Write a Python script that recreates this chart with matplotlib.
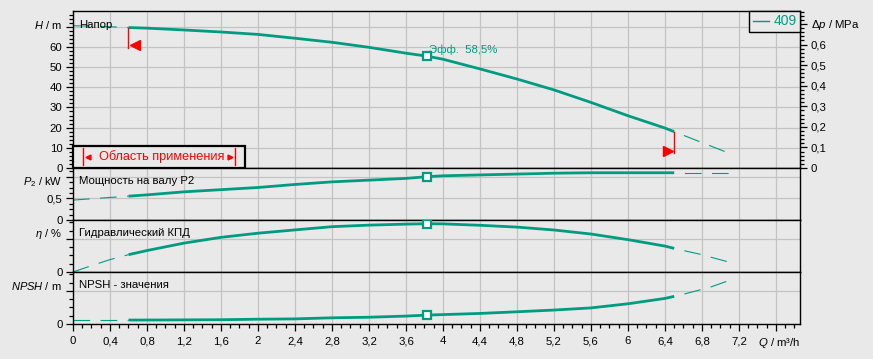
import matplotlib
matplotlib.use("Agg")
import matplotlib.pyplot as plt
import numpy as np
from matplotlib.ticker import MultipleLocator, FuncFormatter
from matplotlib.lines import Line2D
from matplotlib.patches import Rectangle

plt.rcParams["font.family"] = ["Liberation Sans", "DejaVu Sans"]
plt.rcParams["mathtext.fontset"] = "custom"
plt.rcParams["mathtext.rm"] = "Liberation Sans"
plt.rcParams["mathtext.it"] = "Liberation Sans:italic"
plt.rcParams["lines.scale_dashes"] = False

# --- data (Q in m3/h) ---
q = [0, 0.2, 0.4, 0.6, 0.8, 1.2, 1.6, 2.0, 2.4, 2.8, 3.2, 3.6, 3.83, 4.0,
     4.4, 4.8, 5.2, 5.6, 6.0, 6.4, 6.5, 6.6, 6.8, 6.9, 7.1]
head = [70.5, 70.3, 70.0, 69.6, 69.3, 68.4, 67.4, 66.2, 64.3, 62.3, 59.8,
        56.9, 55.4, 53.9, 49.1, 44.1, 38.7, 32.5, 25.9, 19.8, 18.0, 16.2,
        12.6, 10.8, 7.2]
p2 = [0.46, 0.49, 0.52, 0.55, 0.58, 0.65, 0.70, 0.75, 0.82, 0.88, 0.92,
      0.96, 1.0, 1.02, 1.04, 1.06, 1.08, 1.09, 1.09, 1.09, 1.09, 1.09,
      1.09, 1.09, 1.09]
eta = [0, 7.7, 15.0, 21.0, 26.0, 35.0, 42.0, 47.0, 51.0, 54.9, 56.8, 58.0,
       58.5, 58.3, 56.6, 54.4, 50.9, 46.0, 39.2, 31.4, 28.6, 26.0, 21.0,
       17.8, 11.8]
npsh = [0.48, 0.48, 0.48, 0.48, 0.48, 0.5, 0.52, 0.58, 0.62, 0.75, 0.82,
        0.96, 1.08, 1.14, 1.28, 1.48, 1.69, 1.95, 2.45, 3.1, 3.35, 3.6, 4.2,
        4.5, 5.3]

q_min, q_max = 0.6, 6.5      # application range
q_duty = 3.83
eff_label = "Эфф.  58,5%"
pump_name = "409"

TEAL = "#009c82"
RED = "#ff0000"
BG = "#e9e9e9"
GRID = "#c3c3c3"
FS = 8.2

fmt = FuncFormatter(lambda v, p: f"{v:g}".replace(".", ","))

fig = plt.figure(figsize=(8.73, 3.59), dpi=100, facecolor=BG)
W, Hpx = 873.0, 359.0
left, width = 73 / W, 727 / W


def panel(top_px, bot_px):
    ax = fig.add_axes([left, 1 - bot_px / Hpx, width, (bot_px - top_px) / Hpx])
    ax.set_facecolor(BG)
    ax.set_xlim(0, 7.86)
    ax.xaxis.set_major_locator(MultipleLocator(0.4))
    ax.xaxis.set_minor_locator(MultipleLocator(0.1))
    ax.grid(True, which="major", color=GRID, lw=0.9)
    ax.set_axisbelow(True)
    for s in ax.spines.values():
        s.set_color("black")
        s.set_linewidth(1.0)
    ax.tick_params(axis="both", which="major", length=5, width=0.9,
                   labelsize=FS, pad=2.5, direction="out")
    ax.tick_params(axis="both", which="minor", length=3, width=0.9,
                   direction="out")
    ax.tick_params(axis="x", which="both", bottom=False, labelbottom=False)
    ax.yaxis.set_major_formatter(fmt)
    return ax


def draw(ax, vals):
    qa = np.array(q)
    va = np.array(vals)
    lo = qa <= q_min
    mid = (qa >= q_min) & (qa <= q_max)
    hi = qa >= q_max
    ax.plot(qa[lo], va[lo], color=TEAL, lw=0.8, ls=(0, (12, 7.5)))
    ax.plot(qa[mid], va[mid], color=TEAL, lw=2.0, solid_capstyle="butt")
    ax.plot(qa[hi], va[hi], color=TEAL, lw=0.8, ls=(12, (12, 7.5)))
    d = qa == q_duty
    ax.plot(qa[d], va[d], "s", ms=5.5, mfc="white", mec=TEAL, mew=1.6,
            zorder=5)
    return qa[d][0], va[d][0]


def ylabel(ax, y, text):
    ax.text(-0.015, y, text, transform=ax.get_yaxis_transform(),
            ha="right", va="center", fontsize=8)


def title(ax, y, text):
    ax.text(0.0085, y, text, transform=ax.transAxes, ha="left",
            va="center", fontsize=FS)


# --- head ---
ax_h = panel(11, 168)
ax_h.set_ylim(0, 77.8)
ax_h.yaxis.set_major_locator(MultipleLocator(10))
ax_h.yaxis.set_minor_locator(MultipleLocator(2))
ax_h.yaxis.set_major_formatter(
    FuncFormatter(lambda v, p: "" if v > 65 else f"{v:g}"))
ylabel(ax_h, 70.9, r"$H$ / m")
title(ax_h, 0.91, "Напор")
qd, hd = draw(ax_h, head)
ax_h.annotate(eff_label, (qd, hd), xytext=(1.5, 5), textcoords="offset points",
              ha="left", va="center", fontsize=FS, color=TEAL)

# application range marks
h_lo = head[q.index(q_min)]
h_hi = head[q.index(q_max)]
ax_h.plot([q_min, q_min], [h_lo, h_lo - 10.3], color=RED, lw=1.0)
ax_h.plot([q_min + 0.065], [h_lo - 8.6], "<", color=RED, ms=6.5)
ax_h.plot([q_max, q_max], [h_hi, h_hi - 10.7], color=RED, lw=1.0)
ax_h.plot([q_max - 0.065], [h_hi - 9.4], ">", color=RED, ms=6.5)

# "Область применения" box
box_w, box_h = 172 / 727, 22 / 157
ax_h.add_patch(Rectangle((0, 0), box_w, box_h, transform=ax_h.transAxes,
                         facecolor=BG, edgecolor="black", lw=1.6, zorder=6,
                         clip_on=False))
ax_h.text(0.1215, box_h / 2, "Область применения", transform=ax_h.transAxes,
          ha="center", va="center", fontsize=9.2, color=RED, zorder=7)
for xb in (10 / 727, 162 / 727):
    ax_h.plot([xb, xb], [3 / 157, 20 / 157], color=RED, lw=1.0,
              transform=ax_h.transAxes, zorder=7)
ax_h.plot([15 / 727], [box_h / 2], "<", color=RED, ms=3.5,
          transform=ax_h.transAxes, zorder=7)
ax_h.plot([157 / 727], [box_h / 2], ">", color=RED, ms=3.5,
          transform=ax_h.transAxes, zorder=7)

leg = ax_h.legend(handles=[Line2D([], [], color=TEAL, lw=1.0)],
                  labels=[pump_name], loc="upper right", fontsize=10,
                  frameon=True, fancybox=False, framealpha=1, facecolor=BG,
                  edgecolor="black", borderaxespad=0, handlelength=1.2,
                  handletextpad=0.3, borderpad=0.25, labelcolor=TEAL)
leg.get_frame().set_linewidth(1.0)
leg.set_zorder(8)

sec = ax_h.secondary_yaxis("right", functions=(lambda h: h * 0.00981,
                                               lambda p: p / 0.00981))
sec.yaxis.set_major_locator(MultipleLocator(0.1))
sec.yaxis.set_minor_locator(MultipleLocator(0.02))
sec.yaxis.set_major_formatter(
    FuncFormatter(lambda v, p: "" if v > 0.65 else f"{v:g}".replace(".", ",")))
sec.tick_params(which="major", length=5, width=0.9, labelsize=FS, pad=2.5)
sec.tick_params(which="minor", length=3, width=0.9)
sec.spines["right"].set_color("black")
ax_h.text(1.015, 70.9, r"$\mathit{\Delta p}$ / MPa",
          transform=ax_h.get_yaxis_transform(), ha="left", va="center",
          fontsize=FS)

# --- shaft power ---
ax_p = panel(168, 220)
ax_p.set_ylim(0, 1.2)
ax_p.yaxis.set_major_locator(MultipleLocator(0.5))
ax_p.yaxis.set_minor_locator(MultipleLocator(0.125))
ax_p.yaxis.set_major_formatter(
    FuncFormatter(lambda v, p: "" if v > 0.75 else f"{v:g}".replace(".", ",")))
ylabel(ax_p, 0.87, r"$P_2$ / kW")
title(ax_p, 0.75, "Мощность на валу P2")
draw(ax_p, p2)

# --- efficiency ---
ax_e = panel(220, 272)
ax_e.set_ylim(0, 63)
ax_e.yaxis.set_major_locator(MultipleLocator(40))
ax_e.yaxis.set_minor_locator(MultipleLocator(10))
ax_e.yaxis.set_major_formatter(
    FuncFormatter(lambda v, p: "0" if v == 0 else ""))
ylabel(ax_e, 45.5, r"$\eta$ / %")
title(ax_e, 0.75, "Гидравлический КПД")
draw(ax_e, eta)

# --- NPSH ---
ax_n = panel(272, 324)
ax_n.set_ylim(0, 6.3)
ax_n.yaxis.set_major_locator(MultipleLocator(4))
ax_n.yaxis.set_minor_locator(MultipleLocator(1))
ax_n.yaxis.set_major_formatter(
    FuncFormatter(lambda v, p: "0" if v == 0 else ""))
ylabel(ax_n, 4.6, r"$NPSH$ / m")
title(ax_n, 0.75, "NPSH - значения")
draw(ax_n, npsh)
ax_n.tick_params(axis="x", which="both", bottom=True, labelbottom=True,
                 pad=4)
ax_n.xaxis.set_major_formatter(
    FuncFormatter(lambda v, p: "" if v > 7.4 else f"{round(v, 1):g}".replace(".", ",")))
ax_n.text(1.0, -0.365, r"$Q$ / m³/h", transform=ax_n.transAxes,
          ha="right", va="center", fontsize=FS)

fig.savefig("out.png", dpi=100, facecolor=BG)
